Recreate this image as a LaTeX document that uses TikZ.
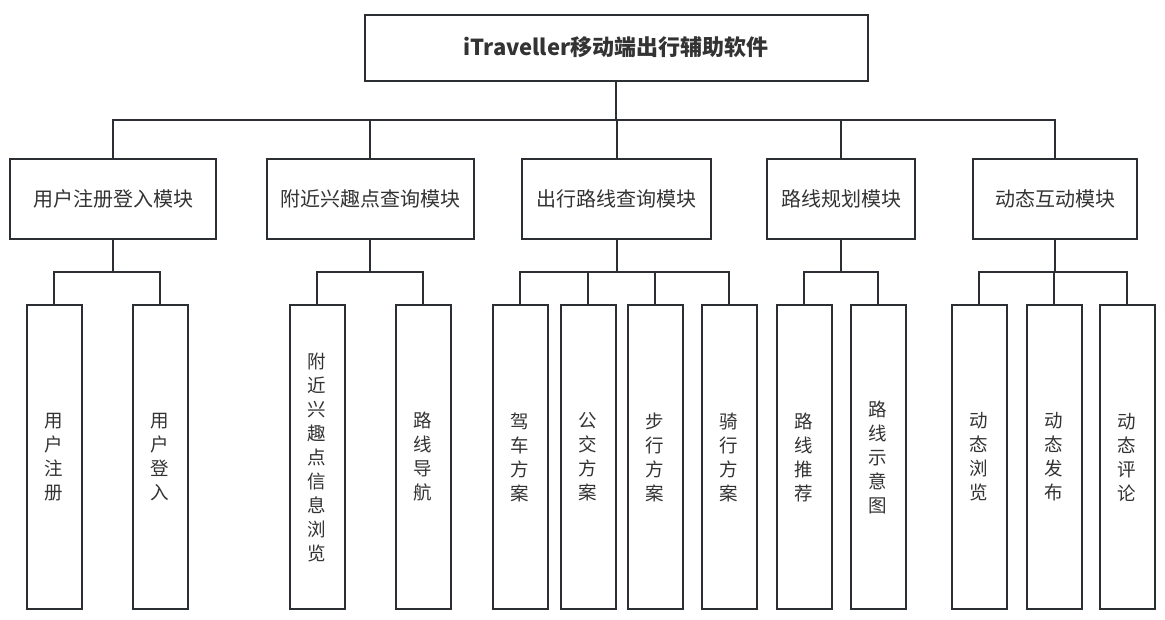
\documentclass[tikz,border=0pt]{standalone}
\usepackage{fontspec}
\setmainfont{Noto Sans CJK SC}
\definecolor{ln}{HTML}{2B2F33}
\definecolor{tx}{HTML}{333333}
\begin{document}
\begin{tikzpicture}[x=1pt,y=-1pt,
  box/.style={draw=ln,line width=2pt,fill=white,text=tx,inner sep=0pt},
  topbox/.style={box,minimum width=503pt,minimum height=66pt,font=\fontsize{22}{26}\selectfont\bfseries},
  midbox/.style={box,minimum height=80pt,font=\fontsize{20}{24}\selectfont},
  leaf/.style={box,minimum width=55pt,minimum height=304pt,align=center,font=\fontsize{18.5}{24}\selectfont},
  conn/.style={draw=ln,line width=2pt}]
\useasboundingbox (0,0) rectangle (1165,619);
\node[topbox] (top) at (616,47.5) {iTraveller移动端出行辅助软件};
\node[midbox,minimum width=206pt] (b1) at (113,199) {用户注册登入模块};
\node[midbox,minimum width=207pt] (b2) at (370,199) {附近兴趣点查询模块};
\node[midbox,minimum width=189pt] (b3) at (616.5,199) {出行路线查询模块};
\node[midbox,minimum width=148pt] (b4) at (841,199) {路线规划模块};
\node[midbox,minimum width=164pt] (b5) at (1055,199) {动态互动模块};
\node[leaf] (c11) at (54,457) {用\\户\\注\\册};
\node[leaf] (c12) at (160,457) {用\\户\\登\\入};
\node[leaf] (c21) at (317,457) {附\\近\\兴\\趣\\点\\信\\息\\浏\\览};
\node[leaf] (c22) at (423,457) {路\\线\\导\\航};
\node[leaf] (c31) at (520,457) {驾\\车\\方\\案};
\node[leaf] (c32) at (588,457) {公\\交\\方\\案};
\node[leaf] (c33) at (655,457) {步\\行\\方\\案};
\node[leaf] (c34) at (729,457) {骑\\行\\方\\案};
\node[leaf] (c41) at (804,457) {路\\线\\推\\荐};
\node[leaf] (c42) at (878,457) {路\\线\\示\\意\\图};
\node[leaf] (c51) at (979,457) {动\\态\\浏\\览};
\node[leaf] (c52) at (1054,457) {动\\态\\发\\布};
\node[leaf] (c53) at (1127,457) {动\\态\\评\\论};
\coordinate (bar) at (0,120);
\coordinate (sub) at (0,272);
\foreach \b in {b1,b2,b3,b4,b5}
  \draw[conn] (top.south) -- (top.south |- bar) -| (\b.north);
\foreach \c in {c11,c12} \draw[conn] (b1.south) -- (b1.south |- sub) -| (\c.north);
\foreach \c in {c21,c22} \draw[conn] (b2.south) -- (b2.south |- sub) -| (\c.north);
\foreach \c in {c31,c32,c33,c34} \draw[conn] (b3.south) -- (b3.south |- sub) -| (\c.north);
\foreach \c in {c41,c42} \draw[conn] (b4.south) -- (b4.south |- sub) -| (\c.north);
\foreach \c in {c51,c52,c53} \draw[conn] (b5.south) -- (b5.south |- sub) -| (\c.north);
\end{tikzpicture}
\end{document}
